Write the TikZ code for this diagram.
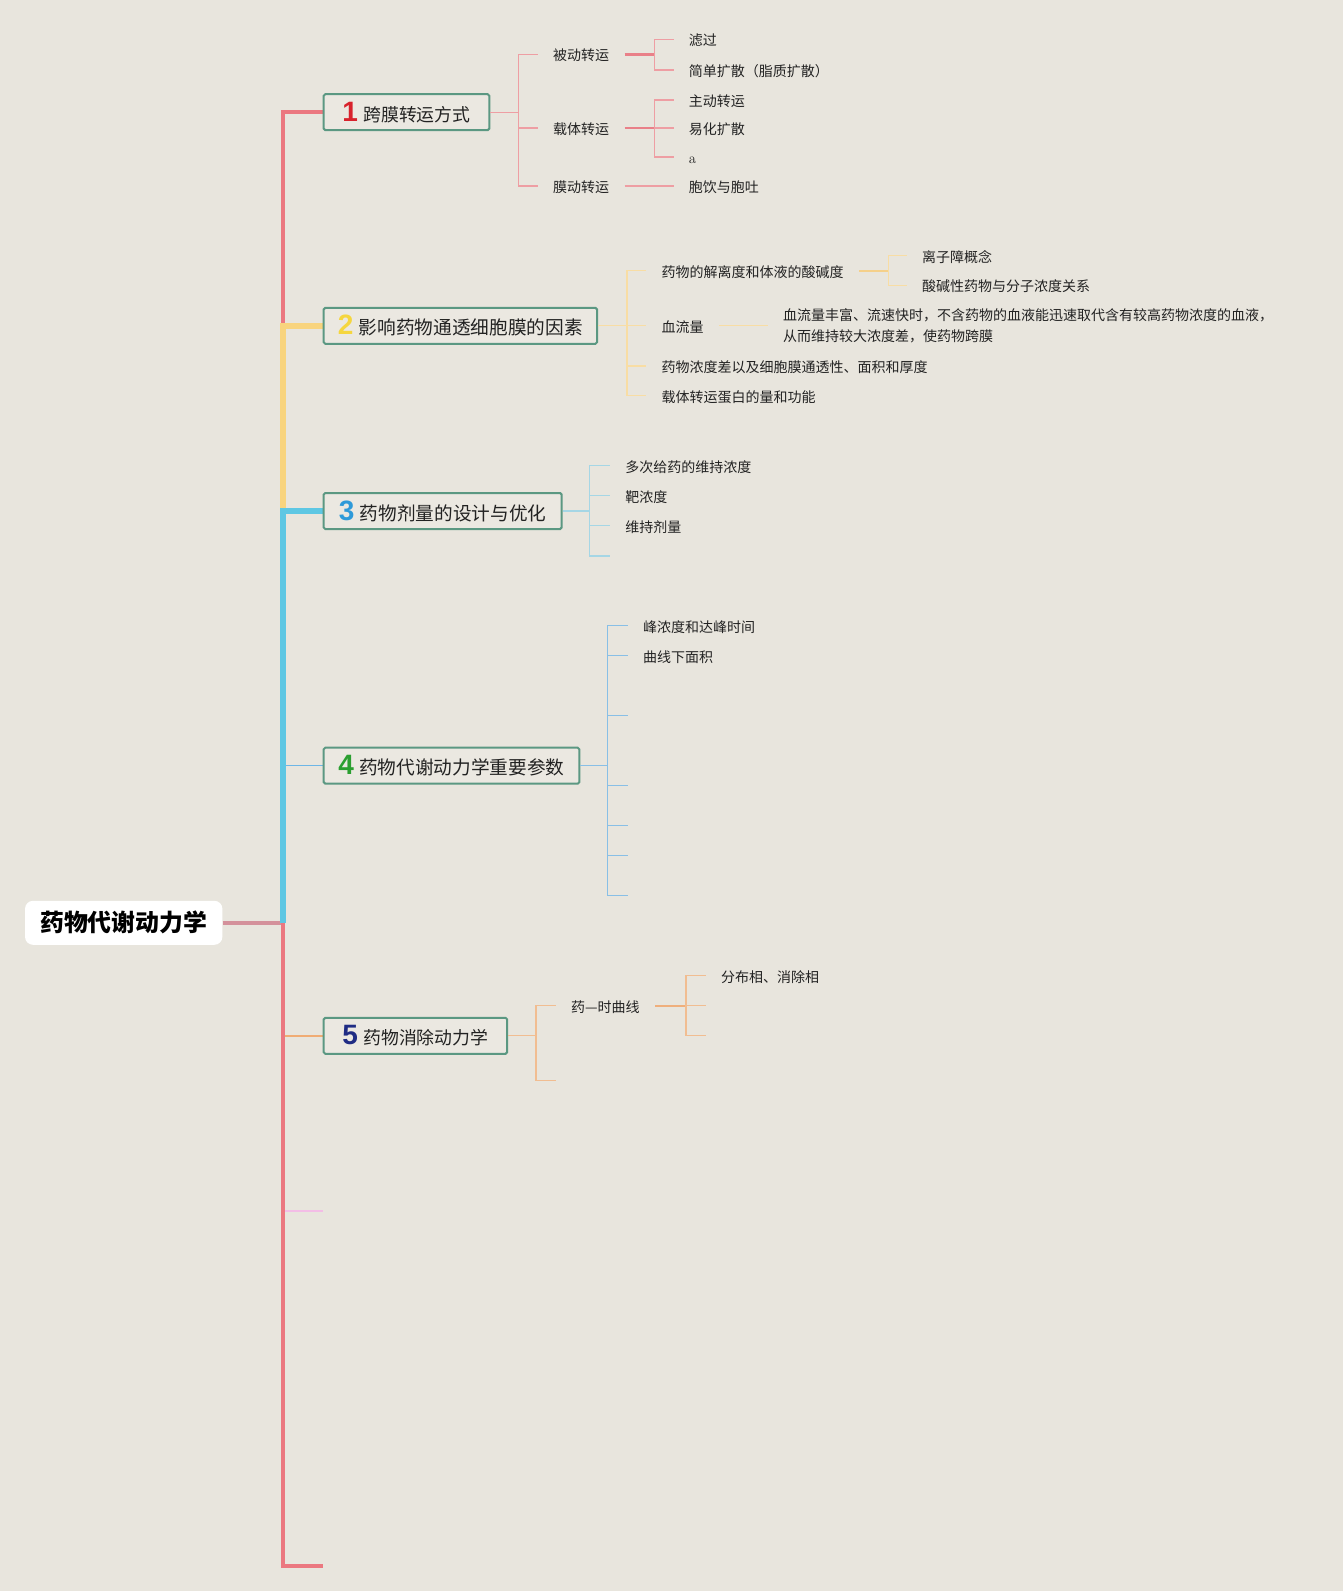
\documentclass[tikz,border=0pt]{standalone}
\usepackage{fontspec}
\usetikzlibrary{backgrounds}
\newfontfamily\cjk{Noto Sans CJK SC}
\newfontfamily\numfont{Liberation Sans Bold}
\definecolor{bg}{HTML}{E8E5DD}
\definecolor{tred}{HTML}{EB7880}
\definecolor{tyel}{HTML}{F8D47E}
\definecolor{tcyan}{HTML}{5EC7E3}
\definecolor{tblue}{HTML}{6DB6E6}
\definecolor{torange}{HTML}{F0AC74}
\definecolor{tpink}{HTML}{F3BDE6}
\definecolor{stemc}{HTML}{D4919B}
\definecolor{sa}{HTML}{EE9EA3}
\definecolor{sad}{HTML}{E98088}
\definecolor{sb}{HTML}{F8DDA4}
\definecolor{sbd}{HTML}{F5D08A}
\definecolor{sc}{HTML}{A5D6E5}
\definecolor{sd}{HTML}{88BFE6}
\definecolor{se}{HTML}{F1BD91}
\definecolor{sed}{HTML}{EFAF7C}
\definecolor{boxline}{HTML}{5B9882}
\definecolor{boxfill}{HTML}{EBE8E1}
\definecolor{ink}{HTML}{222222}
\definecolor{nA}{HTML}{D8222C}
\definecolor{nB}{HTML}{F5D63E}
\definecolor{nC}{HTML}{2E9AD9}
\definecolor{nD}{HTML}{2B9F30}
\definecolor{nE}{HTML}{1F2C84}
\newcommand\bnum[2]{{\numfont\fontsize{21pt}{21pt}\selectfont\color{#1}#2}\hspace{4pt}}
\tikzset{
  mainbox/.style={draw=boxline, line width=1.5pt, fill=boxfill, rounded corners=1.2pt,
    anchor=west, minimum height=27pt, inner sep=0pt, text=ink},
  boxfontA/.style={font=\cjk\fontsize{13.4pt}{16pt}\selectfont},
  boxfontB/.style={font=\cjk\fontsize{14pt}{17pt}\selectfont},
  leafbase/.style={anchor=west, inner xsep=11.4pt, inner ysep=1.5pt, text=ink,
    font=\cjk\fontsize{10.5pt}{15.4pt}\selectfont},
  leaf/.style={leafbase, text height=1.0em, text depth=0.05em},
  trunkthick/.style={line width=3pt},
  trunkwide/.style={line width=4.1pt},
  trunkthin/.style={line width=1.1pt},
  twig/.style={line width=0.9pt},
  twigbold/.style={line width=1.6pt},
}
\begin{document}
\begin{tikzpicture}[x=0.75pt,y=-0.75pt]
\useasboundingbox (0,0) rectangle (1343,1591);
\begin{scope}[on background layer]
\fill[bg] (0,0) rectangle (1343,1591);
\end{scope}

% root
\node[fill=white, rounded corners=6pt, minimum width=148pt, minimum height=33pt, inner sep=0pt,
  font=\cjk\bfseries\fontsize{17.9pt}{20pt}\selectfont, text=black] (root) at (123.7,922.8) {药物代谢动力学};

% main boxes
\node[mainbox, boxfontA, minimum width=124.2pt] (b1) at (322.7,112.2) {\bnum{nA}{1}跨膜转运方式};
\node[mainbox, boxfontB, minimum width=205pt] (b2) at (322.7,325.8) {\bnum{nB}{2}影响药物通透细胞膜的因素};
\node[mainbox, boxfontB, minimum width=178.5pt] (b3) at (322.7,511) {\bnum{nC}{3}药物剂量的设计与优化};
\node[mainbox, boxfontB, minimum width=191.7pt] (b4) at (322.7,765.7) {\bnum{nD}{4}药物代谢动力学重要参数};
\node[mainbox, boxfontA, minimum width=137.6pt] (b5) at (322.7,1035.8) {\bnum{nE}{5}药物消除动力学};
\coordinate (e6) at (322.7,1210.7);
\coordinate (e7) at (322.7,1566);

% trunk
\coordinate (T) at (283,922.8);
\begin{scope}[on background layer]
\draw[stemc, line width=3pt] (root.east) -- (T);
\draw[tred, trunkthick] (T) |- (b1.west);
\draw[tyel, trunkwide] (T) |- (b2.west);
\draw[tblue, trunkthin] (T) |- (b4.west);
\draw[tcyan, trunkwide] (T) |- (b3.west);
\draw[torange, trunkthin] (T) |- (b5.west);
\draw[tpink, line width=1.7pt] (T) |- (e6);
\draw[tred, trunkthick] (T) |- (e7);
\end{scope}

% ---- subtree 1
\coordinate (k1) at (518.3,112.2);
\node[leaf] (p11) at (537.6,54.5) {被动转运};
\node[leaf] (p12) at (537.6,128) {载体转运};
\node[leaf] (p13) at (537.6,186) {膜动转运};
\draw[sa, twig] (b1.east) -- (k1);
\draw[sa, twig] (k1) |- (p11.west) (k1) |- (p12.west) (k1) |- (p13.west);
\coordinate (k11) at (654.3,54.5);
\node[leaf] (q111) at (673.5,39.5) {滤过};
\node[leaf] (q112) at (673.5,70) {简单扩散（脂质扩散）};
\draw[sad, twigbold] (p11.east) -- (k11);
\draw[sa, twig] (k11) |- (q111.west) (k11) |- (q112.west);
\coordinate (k12) at (654.3,128);
\node[leaf] (q121) at (673.5,100) {主动转运};
\node[leaf] (q122) at (673.5,128) {易化扩散};
\node[leaf, font=\rmfamily\fontsize{11pt}{12pt}\selectfont] (q123) at (673.5,157) {a};
\draw[sad, twigbold] (p12.east) -- (k12);
\draw[sa, twig] (k12) |- (q121.west) (k12) |- (q122.west) (k12) |- (q123.west);
\node[leaf] (q131) at (673.5,186) {胞饮与胞吐};
\draw[sa, twig] (p13.east) -- (q131.west);

% ---- subtree 2
\coordinate (k2) at (626.9,325.8);
\node[leaf] (p21) at (646.1,270.7) {药物的解离度和体液的酸碱度};
\node[leaf] (p22) at (646.1,325.8) {血流量};
\node[leaf] (p23) at (646.1,366) {药物浓度差以及细胞膜通透性、面积和厚度};
\node[leaf] (p24) at (646.1,395.7) {载体转运蛋白的量和功能};
\draw[sb, twig] (b2.east) -- (k2);
\draw[sb, twig] (k2) |- (p21.west) (k2) |- (p22.west) (k2) |- (p23.west) (k2) |- (p24.west);
\coordinate (k21) at (888.5,270.7);
\node[leaf] (q211) at (906.7,255.7) {离子障概念};
\node[leaf] (q212) at (906.7,285.5) {酸碱性药物与分子浓度关系};
\draw[sbd, twigbold] (p21.east) -- (k21);
\draw[sb, twig] (k21) |- (q211.west) (k21) |- (q212.west);
\node[leafbase, align=left] (q221) at (767.7,325.8) {血流量丰富、流速快时，不含药物的血液能迅速取代含有较高药物浓度的血液，\\从而维持较大浓度差，使药物跨膜};
\draw[sb, twig] (p22.east) -- (q221.west);

% ---- subtree 3
\coordinate (k3) at (589.5,511);
\node[leaf] (p31) at (610,465.7) {多次给药的维持浓度};
\node[leaf] (p32) at (610,495.7) {靶浓度};
\node[leaf] (p33) at (610,525.7) {维持剂量};
\coordinate (c34) at (610,556);
\draw[sc, twig] (b3.east) -- (k3);
\draw[sc, twig] (k3) |- (p31.west) (k3) |- (p32.west) (k3) |- (p33.west) (k3) |- (c34);

% ---- subtree 4
\coordinate (k4) at (607.7,765.7);
\node[leaf] (p41) at (627.7,625.7) {峰浓度和达峰时间};
\node[leaf] (p42) at (627.7,655.7) {曲线下面积};
\coordinate (c43) at (627.7,715.7);
\coordinate (c44) at (627.7,785.7);
\coordinate (c45) at (627.7,825.7);
\coordinate (c46) at (627.7,855.7);
\coordinate (c47) at (627.7,895.7);
\draw[sd, twig] (b4.east) -- (k4);
\draw[sd, twig] (k4) |- (p41.west) (k4) |- (p42.west) (k4) |- (c43) (k4) |- (c44)
  (k4) |- (c45) (k4) |- (c46) (k4) |- (c47);

% ---- subtree 5
\coordinate (k5) at (536,1035.8);
\node[leaf] (p51) at (555.7,1005.7) {药—时曲线};
\coordinate (c52) at (555.7,1080.7);
\draw[se, twig] (b5.east) -- (k5);
\draw[se, twig] (k5) |- (p51.west) (k5) |- (c52);
\coordinate (k51) at (686,1005.7);
\node[leaf] (q511) at (705.7,975.7) {分布相、消除相};
\coordinate (c512) at (705.7,1005.7);
\coordinate (c513) at (705.7,1035.7);
\draw[sed, twigbold] (p51.east) -- (k51);
\draw[se, twig] (k51) |- (q511.west) (k51) |- (c512) (k51) |- (c513);
\end{tikzpicture}
\end{document}
